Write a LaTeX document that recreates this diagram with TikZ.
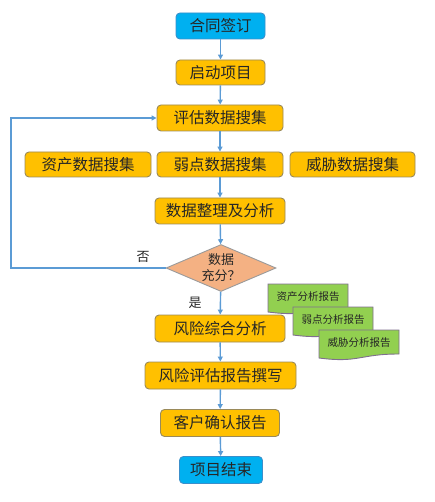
\documentclass[tikz,border=0pt]{standalone}
\usepackage{fontspec}
\setmainfont{Noto Sans CJK SC}
\usetikzlibrary{arrows.meta,shapes.geometric}
\definecolor{boxblue}{HTML}{00B0F0}
\definecolor{boxblueline}{HTML}{3A8FCB}
\definecolor{boxorange}{HTML}{FFC000}
\definecolor{boxorangeline}{HTML}{9A8A5A}
\definecolor{diafill}{HTML}{F4B183}
\definecolor{dialine}{HTML}{9A9A9A}
\definecolor{docgreen}{HTML}{92D050}
\definecolor{docline}{HTML}{7F6F8F}
\definecolor{arrowblue}{HTML}{5B9BD5}
\definecolor{txt}{HTML}{262626}
\begin{document}
\begin{tikzpicture}[x=1pt,y=-1pt,
  basebox/.style={rectangle,rounded corners=4pt,line width=0.9pt,inner sep=0pt,
    minimum height=26pt,text=txt,font=\fontsize{15.5}{18}\selectfont},
  bluebox/.style={basebox,fill=boxblue,draw=boxblueline},
  orangebox/.style={basebox,fill=boxorange,draw=boxorangeline},
  decision/.style={diamond,fill=diafill,draw=dialine,line width=0.9pt,inner sep=0pt,
    minimum width=110pt,minimum height=47pt,aspect=2.35,align=center,text=txt,
    font=\fontsize{13}{16}\selectfont},
  flow/.style={draw=arrowblue,line width=1.4pt,-{Triangle[length=5pt,width=5pt]}},
  doc/.style={fill=docgreen,draw=docline,line width=0.9pt},
  doctext/.style={text=txt,font=\fontsize{10.5}{12}\selectfont,inner sep=0pt},
  lbl/.style={text=txt,font=\fontsize{13}{15}\selectfont,inner sep=0pt}]
\useasboundingbox (0,0) rectangle (434,502);

\node[bluebox,minimum width=89pt] (start) at (220.5,26) {合同签订};
\node[orangebox,minimum width=89pt,minimum height=25pt] (qidong) at (220.5,72.5) {启动项目};
\node[orangebox,minimum width=126pt] (pinggu) at (220,118) {评估数据搜集};
\node[orangebox,minimum width=126pt,minimum height=25pt] (zichan) at (88,164.5) {资产数据搜集};
\node[orangebox,minimum width=126pt,minimum height=25pt] (ruodian) at (220,164.5) {弱点数据搜集};
\node[orangebox,minimum width=125pt,minimum height=25pt] (weixie) at (352.5,164.5) {威胁数据搜集};
\node[orangebox,minimum width=130pt] (zhengli) at (220,211) {数据整理及分析};
\node[decision] (dia) at (221,268) {数据\\充分？};
\node[orangebox,minimum width=130pt,minimum height=27pt] (zonghe) at (220,328.5) {风险综合分析};
\node[orangebox,minimum width=151pt,minimum height=27pt] (baogao) at (220.5,375.5) {风险评估报告撰写};
\node[orangebox,minimum width=119pt,minimum height=27pt] (queren) at (220,423) {客户确认报告};
\node[bluebox,minimum width=83pt,minimum height=27pt] (jieshu) at (221,470) {项目结束};

\node[lbl] (fou) at (143,257) {否};
\node[lbl] (shi) at (195,303) {是};

\draw[flow] (start) -- (qidong);
\draw[flow] (qidong) -- (pinggu);
\draw[flow] (pinggu) -- (ruodian);
\draw[flow] (ruodian) -- (zhengli);
\draw[flow] (zhengli) -- (dia);
\draw[flow] (dia) -- (zonghe);
\draw[flow] (zonghe) -- (baogao);
\draw[flow] (baogao) -- (queren);
\draw[flow] (queren) -- (jieshu);
\coordinate (loopcorner) at (11,268);
\draw[flow] (dia.west) -- (loopcorner) |- (pinggu.west);

\foreach \name/\dx/\dy/\t in {docA/268/284/资产分析报告, docB/293/307/弱点分析报告, docC/319/330/威胁分析报告}{
  \begin{scope}[shift={(\dx,\dy)}]
    \draw[doc] (0,0) -- (80,0) -- (80,24) .. controls (40,24) and (40,33.2) .. (0,28) -- cycle;
    \node[doctext] (\name) at (40,13) {\t};
  \end{scope}
}
\end{tikzpicture}
\end{document}
